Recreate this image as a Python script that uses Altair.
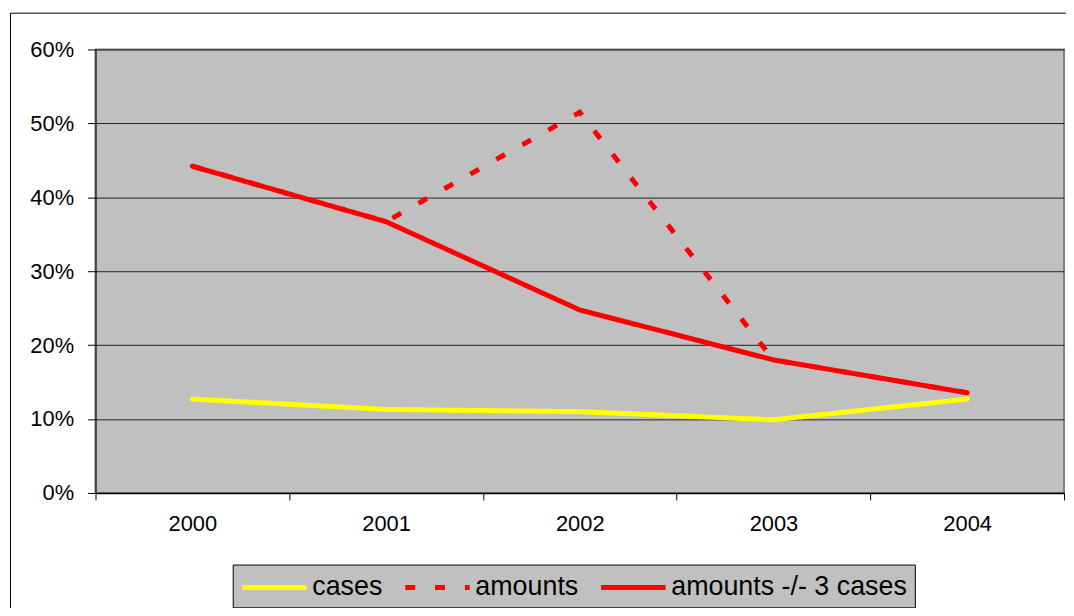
import altair as alt
import pandas as pd

years = [2000, 2001, 2002, 2003, 2004]
series_names = ["cases", "amounts", "amounts -/- 3 cases"]
cases = [0.127, 0.113, 0.110, 0.099, 0.127]
amounts = [0.442, 0.367, 0.515, 0.180, 0.1355]
amounts_excl = [0.442, 0.367, 0.2475, 0.180, 0.1355]
y_ticks = [0.0, 0.1, 0.2, 0.3, 0.4, 0.5, 0.6]
x_bounds = [1999.5, 2000.5, 2001.5, 2002.5, 2003.5, 2004.5]

rows = []
for name, vals in zip(series_names, [cases, amounts, amounts_excl]):
    for yr, v in zip(years, vals):
        rows.append({"year": yr, "value": v, "series": name})
df = pd.DataFrame(rows)

FONT = "Liberation Sans"

color_scale = alt.Scale(domain=series_names, range=["#FFFF00", "#FF0000", "#FF0000"])
dash_scale = alt.Scale(domain=series_names, range=[[1, 0], [10, 20], [1, 0]])

legend = alt.Legend(
    title=None, orient="none", legendX=138, legendY=518, direction="horizontal",
    columns=3, labelFont=FONT, labelFontSize=27, labelColor="black", labelLimit=400,
    symbolType="M-1,0H3.8", symbolSize=729, symbolStrokeWidth=5,
    fillColor="#C0C0C0", strokeColor="black", padding=7, columnPadding=12,
    labelOffset=41,
)

base = alt.Chart(df).encode(
    x=alt.X("year:Q",
            scale=alt.Scale(domain=[1999.5, 2004.5], nice=False, zero=False),
            axis=alt.Axis(values=x_bounds, title=None, grid=False,
                          labelExpr="datum.value < 2004 ? format(datum.value + 0.5, 'd') : ''",
                          labelOffset=97.4, labelFlush=False, labelOverlap=False,
                          labelFont=FONT, labelFontSize=22, labelColor="black",
                          labelPadding=14, tickSize=7, tickColor="black",
                          domainColor="black", domainWidth=1.5)),
    y=alt.Y("value:Q",
            scale=alt.Scale(domain=[0, 0.6], nice=False),
            axis=alt.Axis(values=y_ticks, format=".0%", title=None, grid=True,
                          gridColor="#222222", gridWidth=1,
                          labelFont=FONT, labelFontSize=22, labelColor="black",
                          labelPadding=14, tickSize=8, tickColor="black",
                          domainColor="black", domainWidth=1)),
    color=alt.Color("series:N", scale=color_scale, legend=legend, sort=series_names),
    strokeDash=alt.StrokeDash("series:N", scale=dash_scale, legend=legend, sort=series_names),
)

dashed = base.transform_filter(alt.datum.series == "amounts").mark_line(
    strokeWidth=5, strokeCap="butt")
solid_red = base.transform_filter(alt.datum.series == "amounts -/- 3 cases").mark_line(
    strokeWidth=5, strokeCap="round")
yellow = base.transform_filter(alt.datum.series == "cases").mark_line(
    strokeWidth=5, strokeCap="round")

frame = alt.Chart(pd.DataFrame({"k": [0]})).mark_rect(
    fillOpacity=0, stroke="black", strokeWidth=1).encode(
    x=alt.value(-85.5), x2=alt.value(990), y=alt.value(-36.5), y2=alt.value(640))

chart = alt.layer(frame, dashed, solid_red, yellow).properties(
    width=974, height=446,
    autosize=alt.AutoSizeParams(type="none"),
    padding={"left": 88, "top": 40, "right": 2, "bottom": 114},
    background="white",
).configure_view(
    fill="#C0C0C0", stroke="#808080", strokeWidth=2
)

chart.save("out.html", embed_options={"renderer": "svg", "actions": False})
